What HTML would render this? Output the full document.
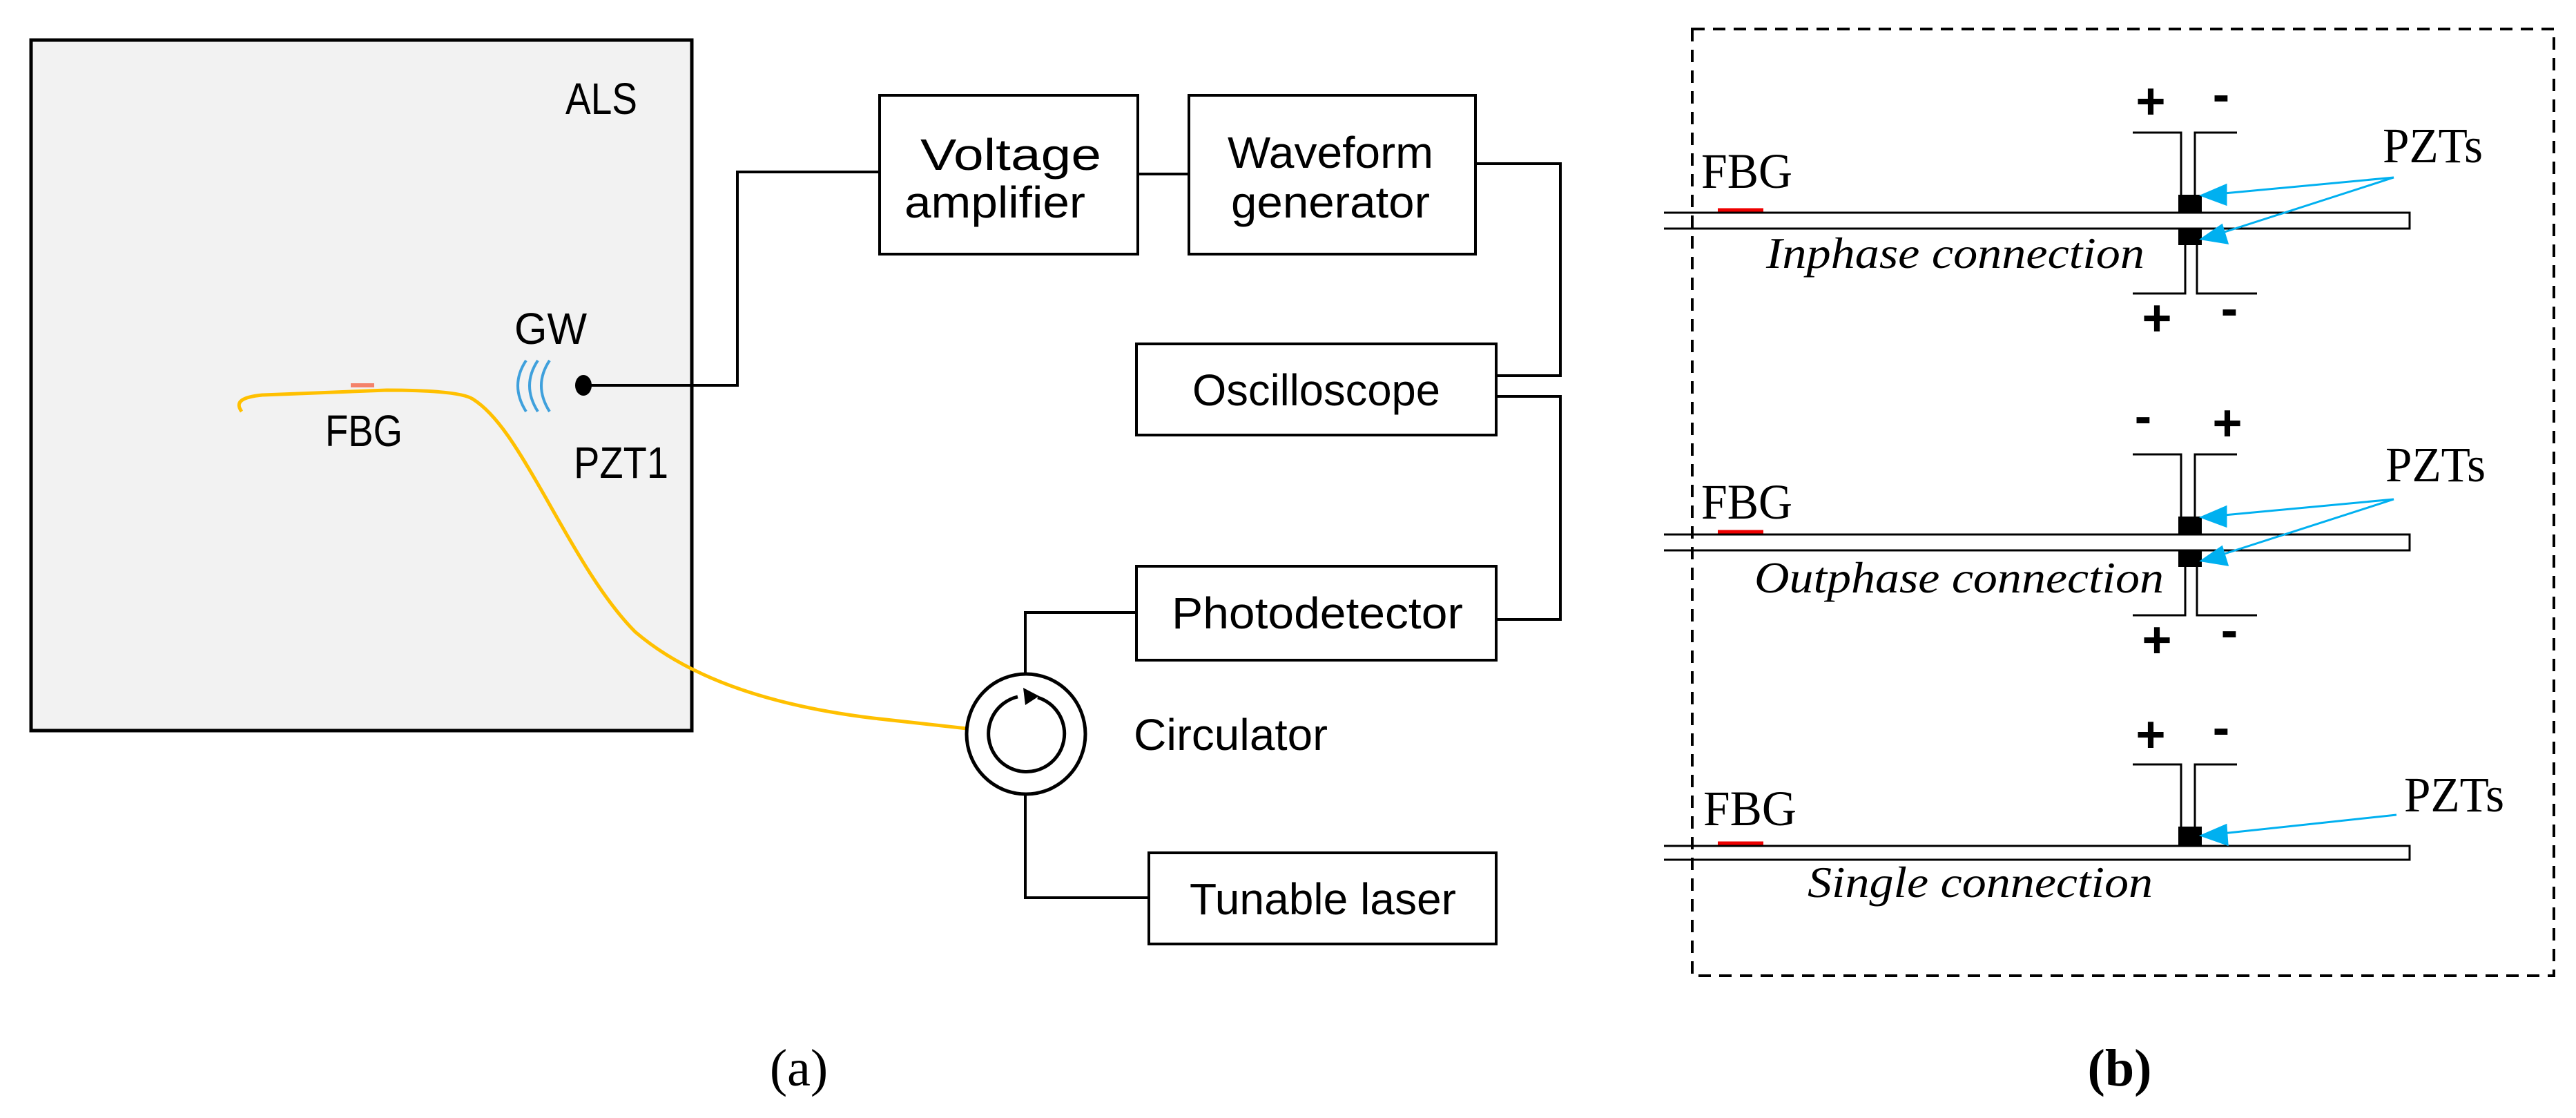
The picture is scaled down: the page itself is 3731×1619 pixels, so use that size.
<!DOCTYPE html>
<html><head><meta charset="utf-8"><style>html,body{margin:0;padding:0;background:#fff}svg{display:block}</style></head>
<body>
<svg width="3731" height="1619" viewBox="0 0 3731 1619" xmlns="http://www.w3.org/2000/svg">
<!-- Panel (a) -->
<rect x="45" y="58" width="957" height="1000" fill="#f2f2f2" stroke="#000" stroke-width="5"/>
<g font-family="Liberation Sans, sans-serif" fill="#000">
<text x="819" y="165" font-size="64" textLength="104" lengthAdjust="spacingAndGlyphs">ALS</text>
<text x="745" y="498" font-size="64" textLength="105" lengthAdjust="spacingAndGlyphs">GW</text>
<text x="471" y="646" font-size="64" textLength="112" lengthAdjust="spacingAndGlyphs">FBG</text>
<text x="831" y="692" font-size="64" textLength="137" lengthAdjust="spacingAndGlyphs">PZT1</text>
</g>
<g fill="none" stroke="#3fa0dc" stroke-width="4">
<path d="M762 522 Q738 558 762 596"/>
<path d="M779 522 Q755 558 779 596"/>
<path d="M796 522 Q772 558 796 596"/>
</g>
<path d="M350 596 C340 582 350 575 380 572 L560 565 C620 565 670 568 685 578 C720 600 750 650 790 720 C835 800 875 870 920 915 C990 975 1100 1020 1265 1040 L1400 1055" fill="none" stroke="#ffc000" stroke-width="5"/>
<line x1="508" y1="558" x2="542" y2="558" stroke="#f4826a" stroke-width="6"/>
<ellipse cx="845" cy="558" rx="12" ry="15" fill="#000"/>
<polyline points="845,558 1068,558 1068,249 1274,249" fill="none" stroke="#000" stroke-width="4"/>
<g fill="#fff" stroke="#000" stroke-width="4">
<rect x="1274" y="138" width="374" height="230"/>
<rect x="1722" y="138" width="415" height="230"/>
<rect x="1646" y="498" width="521" height="132"/>
<rect x="1646" y="820" width="521" height="136"/>
<rect x="1664" y="1235" width="503" height="132"/>
</g>
<g fill="none" stroke="#000" stroke-width="4">
<line x1="1648" y1="252" x2="1722" y2="252"/>
<polyline points="2137,237 2260,237 2260,544 2167,544"/>
<polyline points="2167,574 2260,574 2260,897 2167,897"/>
<polyline points="1646,887 1485,887 1485,976"/>
<polyline points="1485,1152 1485,1300 1664,1300"/>
<ellipse cx="1486" cy="1063" rx="86" ry="87" stroke-width="5"/>
<path d="M1503 1010 A55 55 0 1 1 1474 1009" stroke-width="5"/>
</g>
<polygon points="1482,996 1485,1021 1505,1008" fill="#000"/>
<g font-family="Liberation Sans, sans-serif" fill="#000" font-size="64">
<text x="1333" y="246" textLength="262" lengthAdjust="spacingAndGlyphs">Voltage</text>
<text x="1310" y="315" textLength="262" lengthAdjust="spacingAndGlyphs">amplifier</text>
<text x="1778" y="243" textLength="298" lengthAdjust="spacingAndGlyphs">Waveform</text>
<text x="1783" y="315" textLength="288" lengthAdjust="spacingAndGlyphs">generator</text>
<text x="1727" y="587" textLength="359" lengthAdjust="spacingAndGlyphs">Oscilloscope</text>
<text x="1697" y="910" textLength="422" lengthAdjust="spacingAndGlyphs">Photodetector</text>
<text x="1723" y="1324" textLength="386" lengthAdjust="spacingAndGlyphs">Tunable laser</text>
<text x="1642" y="1086" textLength="281" lengthAdjust="spacingAndGlyphs">Circulator</text>
</g>
<text x="1157" y="1572" font-family="Liberation Serif, serif" font-size="76" text-anchor="middle">(a)</text>

<!-- Panel (b) -->
<rect x="2451" y="42" width="1248" height="1371" fill="none" stroke="#000" stroke-width="4" stroke-dasharray="18,12"/>

<g>
<g fill="none" stroke="#000" stroke-width="3">
<polyline points="2410,308 3490,308 3490,331 2410,331"/>
<polyline points="3089,192 3159,192 3159,282"/>
<polyline points="3240,192 3179,192 3179,282"/>
<polyline points="3089,425 3165,425 3165,355"/>
<polyline points="3269,425 3182,425 3182,355"/>
</g>
<rect x="3155" y="282" width="34" height="26" fill="#000"/>
<rect x="3155" y="331" width="34" height="24" fill="#000"/>
<line x1="2488" y1="304" x2="2554" y2="304" stroke="#e00" stroke-width="5"/>
</g>
<g font-family="Liberation Serif, serif" fill="#000">
<text x="2464" y="272" font-size="72" textLength="132" lengthAdjust="spacingAndGlyphs">FBG</text>
<text x="3451" y="235" font-size="72" textLength="145" lengthAdjust="spacingAndGlyphs">PZTs</text>
<text x="2558" y="388" font-size="64" font-style="italic" textLength="548" lengthAdjust="spacingAndGlyphs">Inphase connection</text>
</g>
<g font-family="Liberation Sans, sans-serif" font-size="74" font-weight="bold" fill="#000" text-anchor="middle">
<text x="3115" y="172">+</text><text x="3217" y="162">-</text>
<text x="3124" y="486">+</text><text x="3229" y="472">-</text>
</g>
<g stroke="#00b0f0" stroke-width="3" fill="#00b0f0">
<line x1="3467" y1="257" x2="3200" y2="282"/>
<line x1="3467" y1="257" x2="3200" y2="343"/>
<polygon points="3189,283 3224,268 3224,296"/>
<polygon points="3189,346 3218,326 3226,352"/>
</g>

<g transform="translate(0,466)">
<g fill="none" stroke="#000" stroke-width="3">
<polyline points="2410,308 3490,308 3490,331 2410,331"/>
<polyline points="3089,192 3159,192 3159,282"/>
<polyline points="3240,192 3179,192 3179,282"/>
<polyline points="3089,425 3165,425 3165,355"/>
<polyline points="3269,425 3182,425 3182,355"/>
</g>
<rect x="3155" y="282" width="34" height="26" fill="#000"/>
<rect x="3155" y="331" width="34" height="24" fill="#000"/>
<line x1="2488" y1="304" x2="2554" y2="304" stroke="#e00" stroke-width="5"/>
<g stroke="#00b0f0" stroke-width="3" fill="#00b0f0">
<line x1="3467" y1="257" x2="3200" y2="282"/>
<line x1="3467" y1="257" x2="3200" y2="343"/>
<polygon points="3189,283 3224,268 3224,296"/>
<polygon points="3189,346 3218,326 3226,352"/>
</g>
<g font-family="Liberation Sans, sans-serif" font-size="74" font-weight="bold" fill="#000" text-anchor="middle">
<text x="3104" y="162">-</text><text x="3226" y="172">+</text>
<text x="3124" y="486">+</text><text x="3229" y="472">-</text>
</g>
</g>
<g font-family="Liberation Serif, serif" fill="#000">
<text x="2464" y="751" font-size="72" textLength="132" lengthAdjust="spacingAndGlyphs">FBG</text>
<text x="3455" y="697" font-size="72" textLength="145" lengthAdjust="spacingAndGlyphs">PZTs</text>
<text x="2541" y="858" font-size="64" font-style="italic" textLength="593" lengthAdjust="spacingAndGlyphs">Outphase connection</text>
</g>

<g transform="translate(0,917)">
<g fill="none" stroke="#000" stroke-width="3">
<polyline points="2410,308 3490,308 3490,328 2410,328"/>
<polyline points="3089,190 3159,190 3159,280"/>
<polyline points="3240,190 3179,190 3179,280"/>
</g>
<rect x="3155" y="280" width="34" height="28" fill="#000"/>
<line x1="2488" y1="304" x2="2554" y2="304" stroke="#e00" stroke-width="5"/>
<g stroke="#00b0f0" stroke-width="3" fill="#00b0f0">
<line x1="3471" y1="263" x2="3200" y2="292"/>
<polygon points="3189,293 3224,278 3226,306"/>
</g>
<g font-family="Liberation Sans, sans-serif" font-size="74" font-weight="bold" fill="#000" text-anchor="middle">
<text x="3115" y="172">+</text><text x="3217" y="162">-</text>
</g>
</g>
<g font-family="Liberation Serif, serif" fill="#000">
<text x="2467" y="1195" font-size="72" textLength="135" lengthAdjust="spacingAndGlyphs">FBG</text>
<text x="3482" y="1175" font-size="72" textLength="145" lengthAdjust="spacingAndGlyphs">PZTs</text>
<text x="2618" y="1299" font-size="64" font-style="italic" textLength="500" lengthAdjust="spacingAndGlyphs">Single connection</text>
</g>
<text x="3070" y="1572" font-family="Liberation Serif, serif" font-size="76" font-weight="bold" text-anchor="middle">(b)</text>
</svg>
</body></html>
